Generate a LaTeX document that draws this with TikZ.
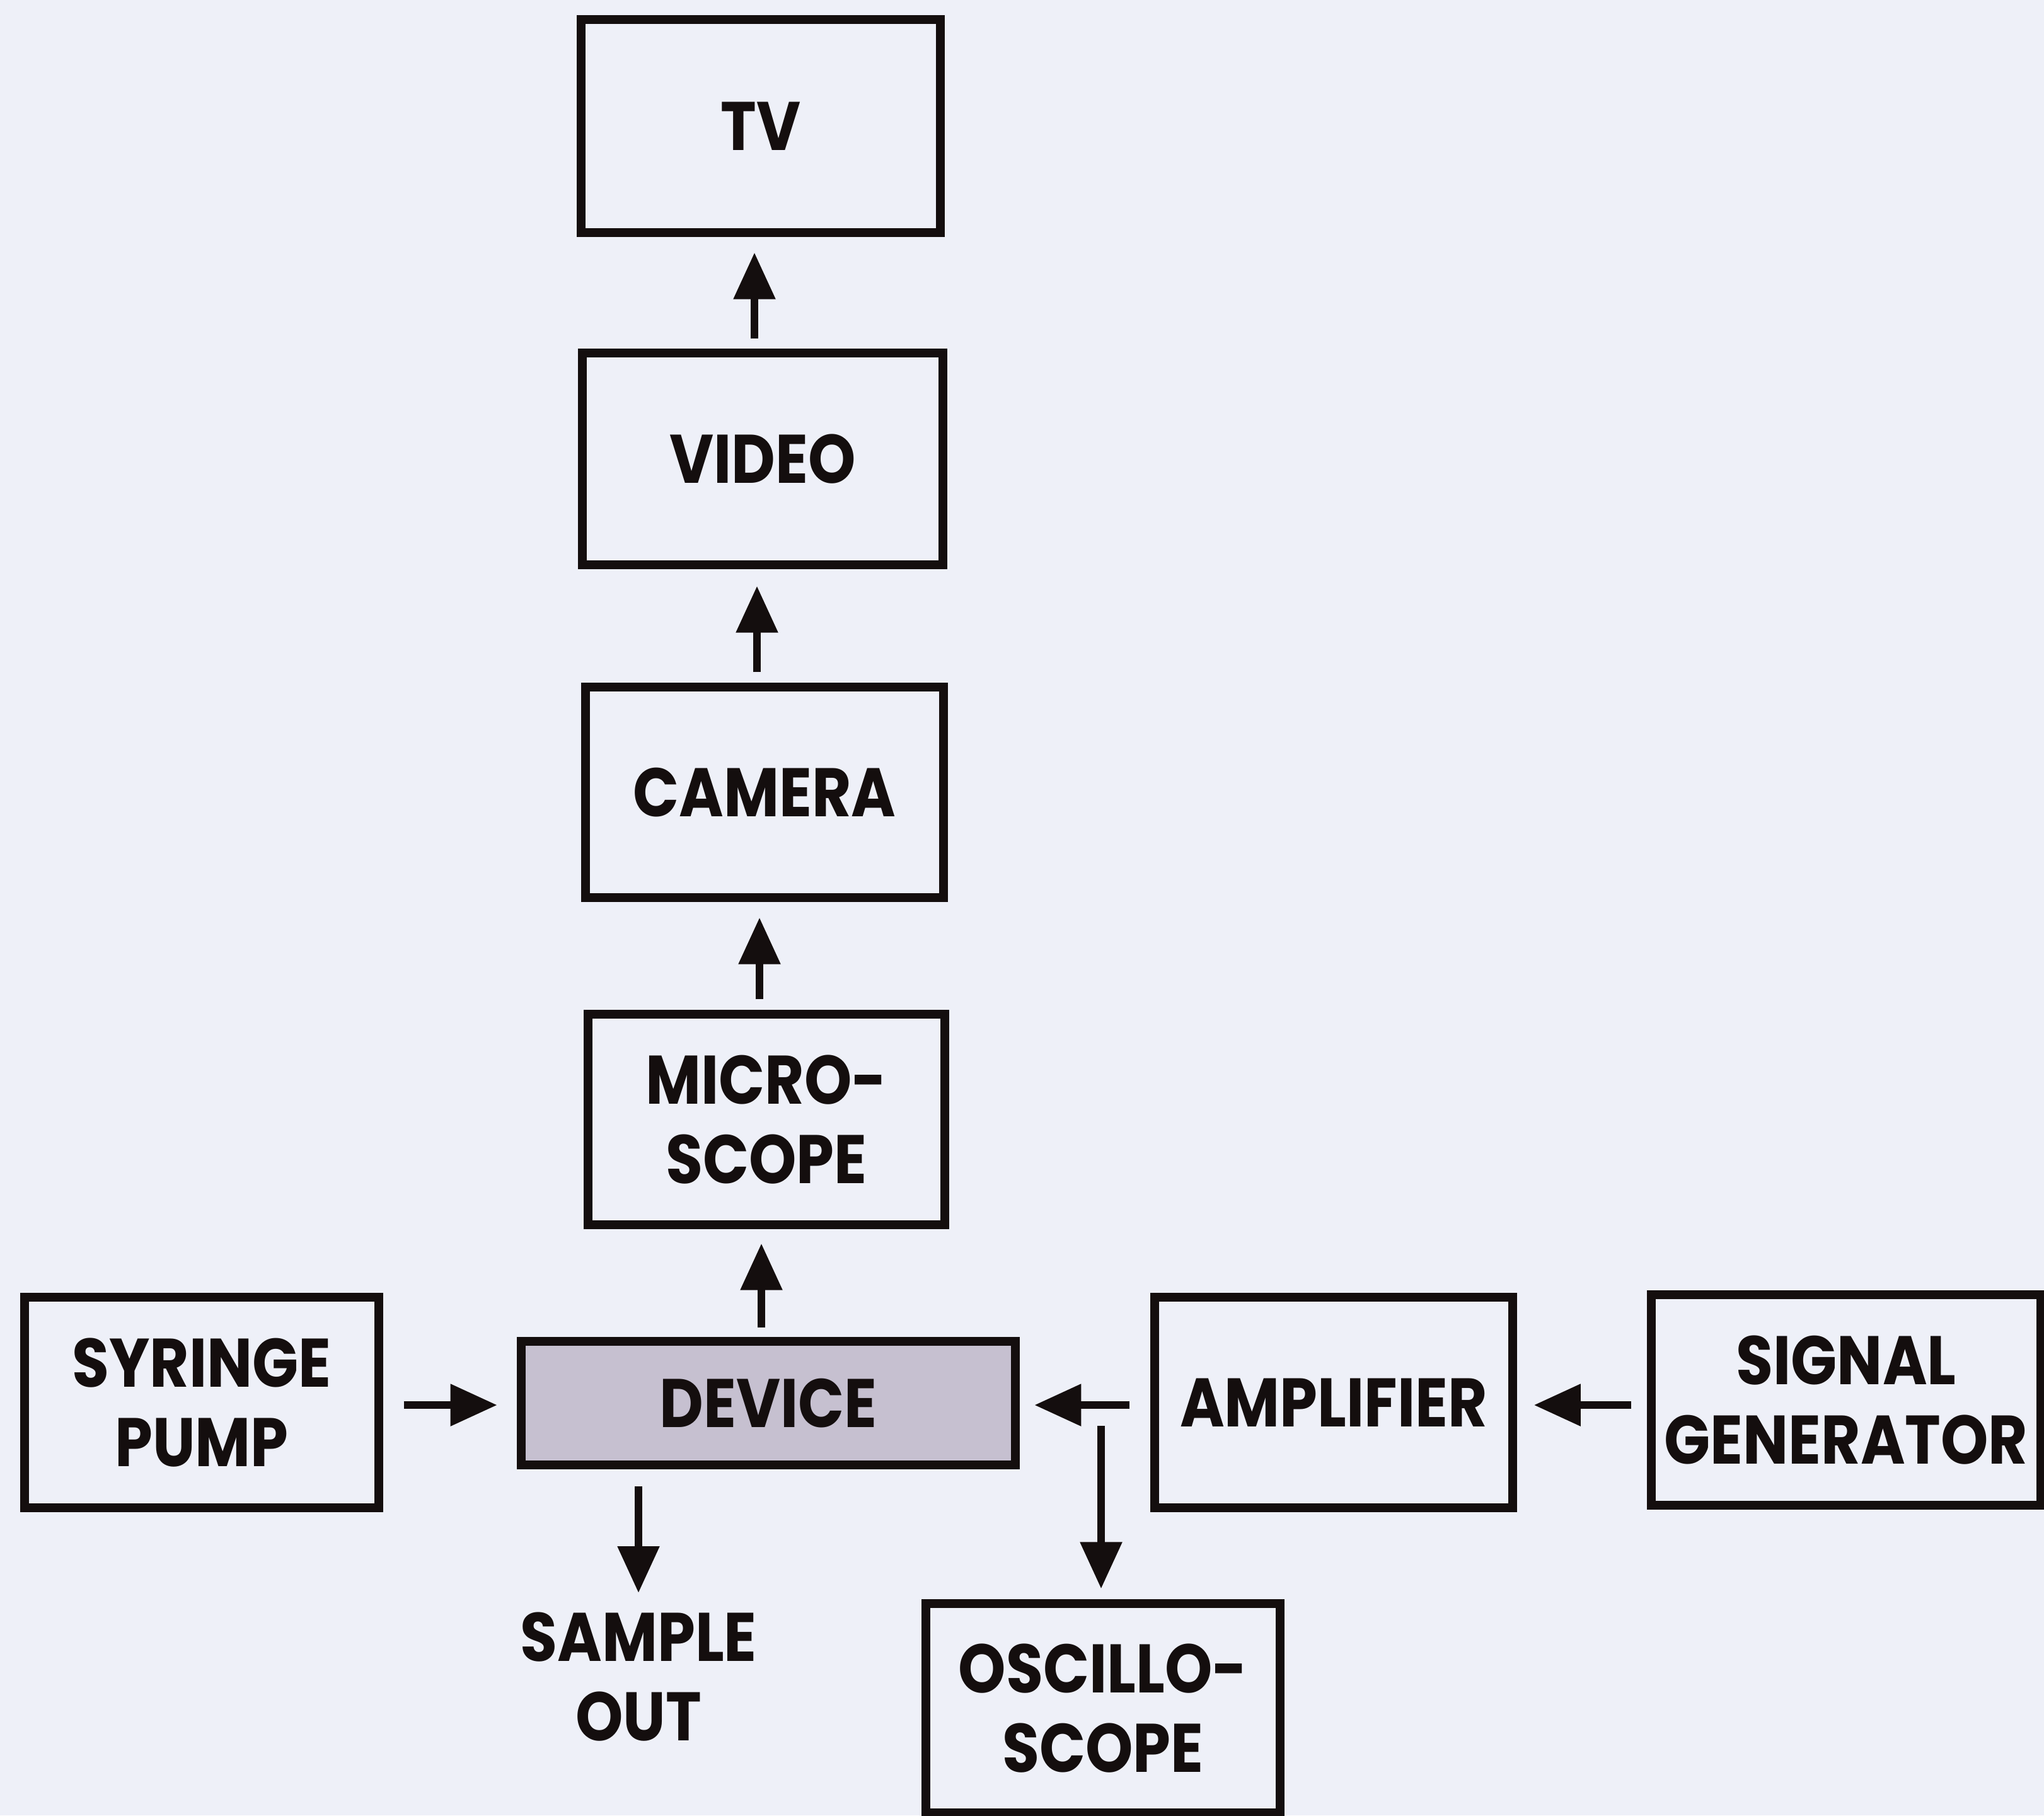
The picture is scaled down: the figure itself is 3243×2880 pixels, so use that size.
\documentclass[tikz,border=0pt]{standalone}
\usepackage{fontspec}
\setmainfont{Poppins}[FakeStretch=0.88]
\usetikzlibrary{arrows.meta}
\definecolor{bg}{RGB}{238,240,248}
\definecolor{devfill}{RGB}{198,192,208}
\definecolor{ink}{RGB}{20,14,14}
\tikzset{
  blk/.style={draw=ink, line width=0.14cm, fill=bg, inner sep=0pt, align=center,
    font=\fontsize{31}{36}\selectfont\bfseries, text=ink},
  arr/.style={draw=ink, line width=0.12cm, -{Triangle[length=0.74cm,width=0.64cm]}},
  lbl/.style={inner sep=0pt, align=center, font=\fontsize{31}{36}\selectfont\bfseries, text=ink}
}
\begin{document}
\begin{tikzpicture}[x=0.01cm,y=-0.01cm]
\fill[bg] (0,0) rectangle (3243,2880);
\useasboundingbox (0,0) rectangle (3243,2880);
\node[blk, minimum width=5.69cm, minimum height=3.37cm] (tv) at (1207,200) {TV};
\node[blk, minimum width=5.71cm, minimum height=3.35cm] (video) at (1210,728) {VIDEO};
\node[blk, minimum width=5.68cm, minimum height=3.33cm] (camera) at (1213,1257) {CAMERA};
\node[blk, minimum width=5.66cm, minimum height=3.33cm] (micro) at (1216,1776) {MICRO-\\SCOPE};
\node[blk, fill=devfill, minimum width=7.84cm, minimum height=1.96cm] (dev) at (1219,2226) {DEVICE};
\node[blk, minimum width=5.61cm, minimum height=3.33cm] (syr) at (320,2225) {SYRINGE\\PUMP};
\node[blk, minimum width=5.67cm, minimum height=3.33cm] (amp) at (2116,2225) {AMPLIFIER};
\node[blk, minimum width=6.18cm, minimum height=3.33cm] (sig) at (2929,2221) {SIGNAL\\GENERATOR};
\node[blk, minimum width=5.61cm, minimum height=3.31cm] (osc) at (1750,2710) {OSCILLO-\\SCOPE};
\node[lbl] (sample) at (1013,2660) {SAMPLE\\OUT};
\coordinate (branch) at (1747,2262);
\coordinate (sampletop) at (1013,2527);
% vertical chain
\draw[arr, shorten <=0.16cm, shorten >=0.25cm] ([xshift=-0.13cm]video.north) -- ([xshift=-0.13cm]video.north |- tv.south);
\draw[arr, shorten <=0.17cm, shorten >=0.27cm] ([xshift=-0.12cm]camera.north) -- ([xshift=-0.12cm]camera.north |- video.south);
\draw[arr, shorten <=0.17cm, shorten >=0.25cm] ([xshift=-0.11cm]micro.north) -- ([xshift=-0.11cm]micro.north |- camera.south);
\draw[arr, shorten <=0.15cm, shorten >=0.23cm] ([xshift=-0.11cm]dev.north) -- ([xshift=-0.11cm]dev.north |- micro.south);
% horizontal
\draw[arr, shorten <=0.33cm, shorten >=0.31cm] ([yshift=-0.04cm]syr.east) -- ([yshift=-0.04cm]syr.east -| dev.west);
\draw[arr, shorten <=0.33cm, shorten >=0.23cm] ([yshift=-0.04cm]amp.west) -- ([yshift=-0.04cm]amp.west -| dev.east);
\draw[arr, shorten <=0.25cm, shorten >=0.27cm] ([yshift=-0.08cm]sig.west) -- ([yshift=-0.08cm]sig.west -| amp.east);
% down
\draw[arr, shorten >=0.17cm] (branch) -- (branch |- osc.north);
\draw[arr, shorten <=0.27cm] (dev.south -| sampletop) -- (sampletop);
\end{tikzpicture}
\end{document}
